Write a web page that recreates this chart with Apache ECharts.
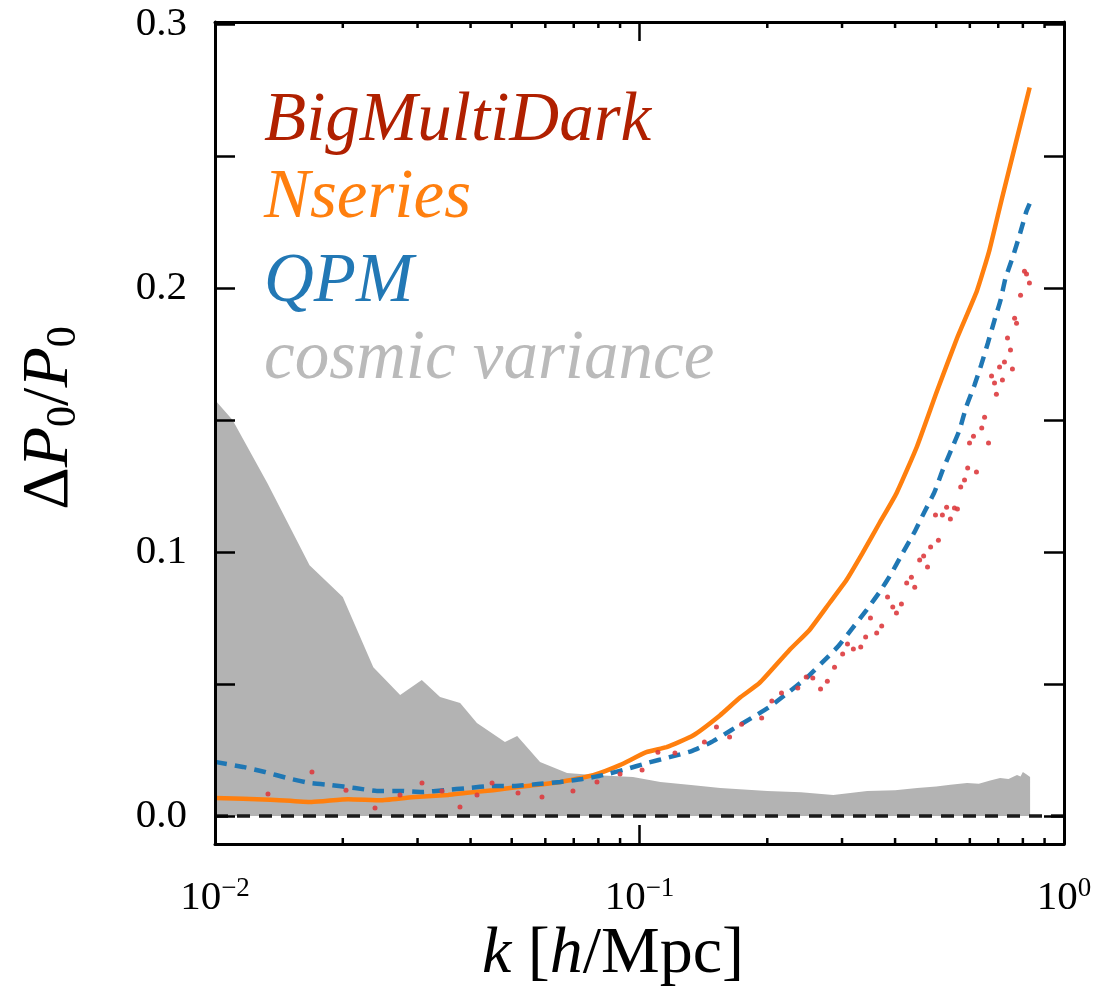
<!DOCTYPE html>
<html>
<head>
<meta charset="utf-8">
<script src="https://cdn.jsdelivr.net/npm/echarts@6/dist/echarts.min.js"></script>
<style>
  html, body { margin: 0; padding: 0; background: #fff; }
  #chart { width: 1096px; height: 994px; }
</style>
</head>
<body>
<div id="chart"></div>
<script>
// Fractional error on the monopole, dP0/P0, against k [h/Mpc]

// BigMultiDark (noisy, shown as dots)
const bmdK = [0.01333, 0.01692, 0.02035, 0.02382, 0.02728, 0.03073, 0.03425, 0.03777, 0.04142, 0.04494,
  0.05174, 0.05892, 0.0697, 0.07941, 0.08998, 0.1014, 0.1105, 0.1212, 0.1422, 0.1518,
  0.163, 0.174, 0.194, 0.205, 0.216, 0.236, 0.247, 0.256, 0.267, 0.277,
  0.288, 0.301, 0.309, 0.319, 0.332, 0.341, 0.35, 0.362, 0.372, 0.384,
  0.395, 0.403, 0.414, 0.426, 0.437, 0.445, 0.457, 0.467, 0.477, 0.485,
  0.498, 0.506, 0.517, 0.529, 0.54, 0.552, 0.561, 0.571, 0.583, 0.593,
  0.599, 0.612, 0.622, 0.64, 0.65, 0.664, 0.675, 0.686, 0.693, 0.705,
  0.716, 0.724, 0.736, 0.748, 0.756, 0.765, 0.773, 0.79, 0.807, 0.816, 0.829];
const bmdV = [0.0083, 0.0167, 0.0098, 0.0030, 0.0080, 0.0125, 0.0095, 0.0034, 0.0080, 0.0125,
  0.0087, 0.0072, 0.0095, 0.0129, 0.0159, 0.0174, 0.0242, 0.0239, 0.0280, 0.0337,
  0.0299, 0.0348, 0.0371, 0.0436, 0.0466, 0.0485, 0.0527, 0.0523, 0.0481, 0.0511,
  0.0564, 0.0614, 0.0652, 0.0633, 0.0640, 0.0678, 0.0750, 0.0693, 0.0720, 0.0830,
  0.0792, 0.0769, 0.0803, 0.0883, 0.0905, 0.0867, 0.0970, 0.0985, 0.0943, 0.1019,
  0.1140, 0.1045, 0.1140, 0.1170, 0.1125, 0.1167, 0.1163, 0.1246, 0.1273, 0.1318,
  0.1413, 0.1439, 0.1303, 0.1470, 0.1511, 0.1413, 0.1667, 0.1640, 0.1598, 0.1701,
  0.1652, 0.1720, 0.1811, 0.1765, 0.1693, 0.1886, 0.1867, 0.1973, 0.2064, 0.2053, 0.2019];

// Nseries
const nserK = [0.0100, 0.0135, 0.0169, 0.0206, 0.0247, 0.0296, 0.0354, 0.0388, 0.0452, 0.0543,
  0.0651, 0.0778, 0.0899, 0.1038, 0.1158, 0.1337, 0.1544, 0.172, 0.1918, 0.2256,
  0.2515, 0.2803, 0.3073, 0.3352, 0.3676, 0.4031, 0.4505, 0.5022, 0.5597, 0.6237,
  0.6674, 0.7125, 0.83];
const nserV = [0.0068, 0.0062, 0.0053, 0.0064, 0.0060, 0.0072, 0.0080, 0.0087, 0.0098, 0.0114,
  0.0129, 0.0155, 0.0193, 0.0242, 0.0261, 0.0305, 0.0380, 0.0447, 0.0504, 0.0629,
  0.0705, 0.0807, 0.0894, 0.0996, 0.1110, 0.1223, 0.1400, 0.1610, 0.1810, 0.1990,
  0.2144, 0.2333, 0.2760];

// QPM
const qpmK = [0.0100, 0.01164, 0.01311, 0.01478, 0.01674, 0.01885, 0.02136, 0.02407, 0.02728, 0.03073,
  0.03477, 0.03945, 0.04494, 0.05089, 0.05762, 0.0651, 0.07331, 0.0821, 0.09318, 0.1044,
  0.1177, 0.1327, 0.1478, 0.1647, 0.1835, 0.2024, 0.2232, 0.2474, 0.2699, 0.2927,
  0.3175, 0.3425, 0.3676, 0.3924, 0.4166, 0.4445, 0.469, 0.4952, 0.5181, 0.5422,
  0.5673, 0.5884, 0.6155, 0.638, 0.6615, 0.686, 0.709, 0.728, 0.760, 0.788, 0.815, 0.83];
const qpmV = [0.0205, 0.0186, 0.0167, 0.0144, 0.0125, 0.0117, 0.0106, 0.0095, 0.0095, 0.0091,
  0.0098, 0.0106, 0.0114, 0.0114, 0.0121, 0.0129, 0.0140, 0.0155, 0.0178, 0.0201,
  0.0223, 0.0246, 0.0280, 0.0326, 0.0371, 0.0413, 0.0466, 0.0523, 0.0583, 0.0640,
  0.0712, 0.0780, 0.0848, 0.0920, 0.0996, 0.1076, 0.1152, 0.1227, 0.1311, 0.1386,
  0.1462, 0.1550, 0.1633, 0.1708, 0.1791, 0.1879, 0.1955, 0.2037, 0.2125, 0.2207, 0.2289, 0.2320];

// Cosmic variance band (filled down to zero)
const cvK = [0.0100, 0.0110, 0.0133, 0.0167, 0.0200, 0.0236, 0.0273, 0.0307, 0.0339, 0.0378,
  0.0414, 0.0482, 0.0515, 0.0583, 0.0675, 0.0777, 0.0965, 0.112, 0.134, 0.155,
  0.200, 0.240, 0.286, 0.344, 0.400, 0.451, 0.500, 0.540, 0.591, 0.630,
  0.670, 0.707, 0.740, 0.775, 0.790, 0.800, 0.815, 0.832];
const cvV = [0.1576, 0.1500, 0.1260, 0.0950, 0.0830, 0.0564, 0.0458, 0.0515, 0.0451, 0.0428,
  0.0352, 0.0280, 0.0303, 0.0205, 0.0163, 0.0155, 0.0148, 0.0129, 0.0117, 0.0106,
  0.0095, 0.0090, 0.0080, 0.0095, 0.0098, 0.0106, 0.0112, 0.0118, 0.0125, 0.0122,
  0.0135, 0.0144, 0.0140, 0.0155, 0.0150, 0.0167, 0.0158, 0.0148];

// Reference level
const zeroK = [0.01, 1];
const zeroV = [0, 0];

// Axis ticks
const yTickValues = [0, 0.05, 0.1, 0.15, 0.2, 0.25, 0.3];
const yLabelValues = [0, 0.1, 0.2, 0.3];
const xMinorTicks = [0.02, 0.03, 0.04, 0.05, 0.06, 0.07, 0.08, 0.09,
  0.2, 0.3, 0.4, 0.5, 0.6, 0.7, 0.8, 0.9];

const X_MIN = 0.01, X_MAX = 1;
const Y_MIN = -0.0106, Y_MAX = 0.3008;
const FONT = 'Liberation Serif';

const zip = (a, b) => a.map((v, i) => [v, b[i]]);

const chart = echarts.init(document.getElementById('chart'), null, { renderer: 'canvas' });

const axisLineStyle = { show: true, onZero: false, lineStyle: { color: '#000', width: 3 } };

function expLabel(value) {
  const e = Math.round(Math.log10(value));
  const s = e < 0 ? '\u2212' + (-e) : String(e);
  return '{b|10}{s|' + s + '}';
}

const legendFont = 'italic 69px "Liberation Serif"';

const option = {
  backgroundColor: '#fff',
  animation: false,
  grid: { left: 215, right: 32, top: 22, bottom: 150, containLabel: false },
  xAxis: [
    {
      type: 'log', logBase: 10, min: X_MIN, max: X_MAX, position: 'bottom', z: 10,
      axisLine: axisLineStyle,
      axisTick: { show: true, inside: true, length: 19, lineStyle: { color: '#000', width: 2.5 } },
      splitLine: { show: false },
      axisLabel: {
        show: true, margin: 31, formatter: expLabel, color: '#000',
        rich: {
          b: { fontFamily: FONT, fontSize: 41, color: '#000', lineHeight: 44, verticalAlign: 'bottom' },
          s: { fontFamily: FONT, fontSize: 27, color: '#000', lineHeight: 28, verticalAlign: 'top' }
        }
      }
    },
    {
      type: 'log', logBase: 10, min: X_MIN, max: X_MAX, position: 'top', z: 10,
      axisLine: axisLineStyle,
      axisTick: { show: true, inside: true, length: 19, lineStyle: { color: '#000', width: 2.5 } },
      splitLine: { show: false },
      axisLabel: { show: false }
    }
  ],
  yAxis: [
    {
      type: 'value', min: Y_MIN, max: Y_MAX, position: 'left', z: 10,
      axisLine: axisLineStyle,
      axisTick: { show: true, inside: true, length: 20, customValues: yTickValues,
        lineStyle: { color: '#000', width: 2.5 } },
      splitLine: { show: false },
      axisLabel: {
        show: true, customValues: yLabelValues, margin: 28,
        formatter: v => v.toFixed(1),
        fontFamily: FONT, fontSize: 41, color: '#000'
      }
    },
    {
      type: 'value', min: Y_MIN, max: Y_MAX, position: 'right', z: 10,
      axisLine: axisLineStyle,
      axisTick: { show: true, inside: true, length: 20, customValues: yTickValues,
        lineStyle: { color: '#000', width: 2.5 } },
      splitLine: { show: false },
      axisLabel: { show: false }
    }
  ],
  series: [
    {
      name: 'cosmic variance', type: 'line', xAxisIndex: 0, yAxisIndex: 0,
      data: zip(cvK, cvV), symbol: 'none', z: 1,
      lineStyle: { width: 0, color: '#b3b3b3' },
      areaStyle: { color: '#b3b3b3', opacity: 1, origin: 0 }
    },
    {
      name: 'zero', type: 'line', xAxisIndex: 0, yAxisIndex: 0,
      data: zip(zeroK, zeroV), symbol: 'none', z: 2,
      lineStyle: { color: '#1a1a1a', width: 3.5, type: [13, 9] }
    },
    {
      name: 'Nseries', type: 'line', xAxisIndex: 0, yAxisIndex: 0,
      data: zip(nserK, nserV), symbol: 'none', z: 3, smooth: 0.15,
      lineStyle: { color: '#ff7f0e', width: 4.5 }
    },
    {
      name: 'QPM', type: 'line', xAxisIndex: 0, yAxisIndex: 0,
      data: zip(qpmK, qpmV), symbol: 'none', z: 4, smooth: 0.15,
      lineStyle: { color: '#1f77b4', width: 4.5, type: [12, 8] }
    },
    {
      name: 'BigMultiDark', type: 'scatter', xAxisIndex: 0, yAxisIndex: 0,
      data: zip(bmdK, bmdV), symbol: 'circle', symbolSize: 5, z: 5,
      itemStyle: { color: '#dd3b3e', opacity: 0.9 }
    },
    {
      name: 'minor ticks', type: 'custom', xAxisIndex: 0, yAxisIndex: 0, z: 10, silent: true,
      data: xMinorTicks.map(k => [k, 0]),
      renderItem: function (params, api) {
        const k = api.value(0);
        const b = api.coord([k, Y_MIN]);
        const t = api.coord([k, Y_MAX]);
        const st = { stroke: '#000', lineWidth: 2.5 };
        return {
          type: 'group',
          children: [
            { type: 'line', shape: { x1: b[0], y1: b[1], x2: b[0], y2: b[1] - 6 }, style: st },
            { type: 'line', shape: { x1: t[0], y1: t[1], x2: t[0], y2: t[1] + 6 }, style: st }
          ]
        };
      }
    }
  ],
  graphic: [
    // in-plot legend
    { type: 'text', left: 264, top: 87, z: 20,
      style: { text: 'BigMultiDark', font: legendFont, fill: '#b02000' } },
    { type: 'text', left: 264, top: 164, z: 20,
      style: { text: 'Nseries', font: legendFont, fill: '#ff7f0e' } },
    { type: 'text', left: 264, top: 248, z: 20,
      style: { text: 'QPM', font: legendFont, fill: '#2278b5' } },
    { type: 'text', left: 264, top: 325, z: 20,
      style: { text: 'cosmic variance', font: legendFont, fill: '#bababa' } },
    // x-axis title
    { type: 'text', x: 613, y: 955, z: 20,
      style: {
        text: '{i|k}{r|\u00a0[}{i|h}{r|/Mpc]}', align: 'center', verticalAlign: 'middle',
        rich: {
          i: { fontFamily: FONT, fontStyle: 'italic', fontSize: 66, fill: '#000', lineHeight: 70 },
          r: { fontFamily: FONT, fontSize: 66, fill: '#000', lineHeight: 70 }
        }
      } },
    // y-axis title
    { type: 'text', x: 50, y: 418, rotation: Math.PI / 2, z: 20,
      style: {
        text: '{r|\u0394}{i|P}{s|0}{r|/}{i|P}{s|0}', align: 'center', verticalAlign: 'middle',
        rich: {
          i: { fontFamily: FONT, fontStyle: 'italic', fontSize: 66, fill: '#000', lineHeight: 70, verticalAlign: 'middle' },
          r: { fontFamily: FONT, fontSize: 66, fill: '#000', lineHeight: 70, verticalAlign: 'middle' },
          s: { fontFamily: FONT, fontSize: 42, fill: '#000', lineHeight: 20, verticalAlign: 'bottom' }
        }
      } }
  ]
};

chart.setOption(option);
</script>
</body>
</html>
